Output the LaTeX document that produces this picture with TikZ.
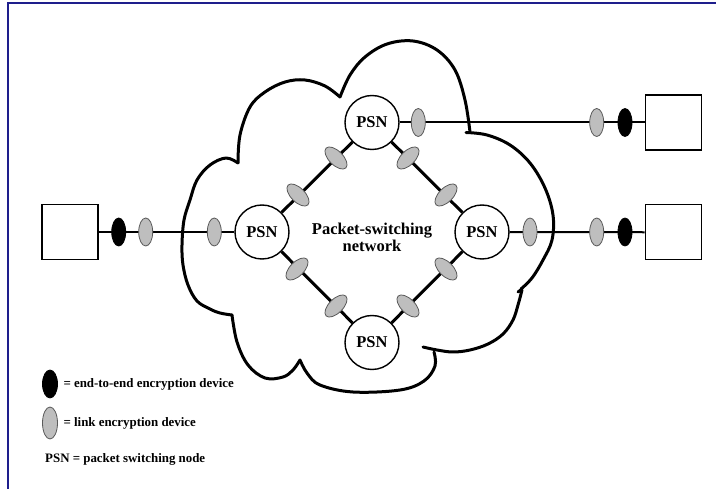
\documentclass[tikz,border=0pt]{standalone}
\usepackage{fontspec}
\setmainfont{Liberation Serif}
\usetikzlibrary{shapes.geometric}
\definecolor{framecol}{RGB}{30,30,140}
\definecolor{linkgray}{RGB}{190,190,190}
\definecolor{edgegray}{RGB}{90,90,90}
\begin{document}
\begin{tikzpicture}[x=1pt,y=-1pt,
  psn/.style={circle, draw, line width=1.4pt, minimum size=54pt, inner sep=0pt, fill=white, font=\fontsize{16.5}{18}\selectfont\bfseries},
  host/.style={draw, line width=1.4pt, minimum width=56pt, minimum height=55pt, inner sep=0pt, fill=white},
  linkdev/.style={ellipse, draw=edgegray, line width=0.8pt, fill=linkgray, minimum width=14pt, minimum height=28pt, inner sep=0pt},
  e2edev/.style={ellipse, draw=black, line width=0.8pt, fill=black, minimum width=14pt, minimum height=28pt, inner sep=0pt},
  hlink/.style={line width=2pt},
  dlink/.style={line width=3pt},
  cloudline/.style={line width=3pt, line join=round, line cap=round},
  legtext/.style={anchor=west, font=\fontsize{12.9}{14}\selectfont\bfseries, inner sep=0pt}
]
\useasboundingbox (0,0) rectangle (716,489);
\fill[white] (0,0) rectangle (716,489);
\draw[framecol, line width=2pt] (7.5,489) -- (7.5,3.5) -- (716,3.5);

% cloud
\draw[cloudline] plot[smooth, tension=0.6] coordinates {(232,315) (220,313) (210,309) (197,301) (188,285) (183,265) (182,245) (184,220) (190,200) (197,180) (210,165) (226,158) (238,163)};
\draw[cloudline] plot[smooth, tension=0.6] coordinates {(238,163) (240,135) (250,107) (265,92) (285,82) (305,80) (325,86) (340,97)};
\draw[cloudline] plot[smooth, tension=0.6] coordinates {(340,97) (350,75) (365,57) (387,44) (413,41) (437,50) (455,70) (465,100) (470,132)};
\draw[cloudline] plot[smooth, tension=0.6] coordinates {(466,132.5) (487,135) (510,145) (530,163) (545,188) (553,215) (552,240) (543,260) (532,278) (521,289)};
\draw[cloudline] (518,292) -- (522,289);
\draw[cloudline] plot[smooth, tension=0.6] coordinates {(522,290) (518,305) (513,320) (503,334) (488,344) (470,350) (453,352) (437,350) (423,347)};
\draw[cloudline] plot[smooth, tension=0.6] coordinates {(434,352) (435,366) (424,381) (400,390) (353,392) (320,385) (307,373) (300,360)};
\draw[cloudline] plot[smooth, tension=0.6] coordinates {(300,360) (293,370) (283,377) (265,378) (248,365) (237,342) (232,315)};

% nodes
\node[psn] (p1) at (372,122.5) {PSN};
\node[psn] (p2) at (262,232) {PSN};
\node[psn] (p3) at (482,232) {PSN};
\node[psn] (p4) at (372,342.5) {PSN};
\node[host] (h1) at (70,232) {};
\node[host] (h2) at (673.4,122.5) {};
\node[host] (h3) at (673.4,232.3) {};
\node[font=\fontsize{16.5}{17}\selectfont\bfseries, align=center] (net) at (372,237) {Packet-switching\\network};

% links
\draw[hlink] (h1) -- (p2);
\draw[hlink] (p1) -- (h2);
\draw[hlink] (p3) -- (h3);
\draw[dlink] (p1) -- (p2);
\draw[dlink] (p1) -- (p3);
\draw[dlink] (p2) -- (p4);
\draw[dlink] (p3) -- (p4);

% encryption devices
\node[e2edev] (a1) at (118.7,232) {};
\node[linkdev] (a2) at (145.7,232) {};
\node[linkdev] (a3) at (214.3,232) {};
\node[linkdev] (b1) at (418.3,122.5) {};
\node[linkdev] (b2) at (596.7,122.5) {};
\node[e2edev] (b3) at (625,122.5) {};
\node[linkdev] (c1) at (530,232) {};
\node[linkdev] (c2) at (596.7,232) {};
\node[e2edev] (c3) at (625,232) {};
\node[linkdev, rotate=45] (d1) at (336,158) {};
\node[linkdev, rotate=45] (d2) at (298,195) {};
\node[linkdev, rotate=-45] (d3) at (408,158) {};
\node[linkdev, rotate=-45] (d4) at (446,195) {};
\node[linkdev, rotate=-45] (d5) at (297,269) {};
\node[linkdev, rotate=-45] (d6) at (336,306) {};
\node[linkdev, rotate=45] (d7) at (408,306) {};
\node[linkdev, rotate=45] (d8) at (446,269) {};

% legend
\node[e2edev, minimum width=15pt] (lg1) at (50,384) {};
\node[legtext] (lt1) at (63.3,384) {= end-to-end encryption device};
\node[linkdev, minimum width=15pt, minimum height=32pt] (lg2) at (50,423) {};
\node[legtext] (lt2) at (63.3,423) {= link encryption device};
\node[legtext] (lt3) at (45,459) {PSN = packet switching node};
\end{tikzpicture}
\end{document}
